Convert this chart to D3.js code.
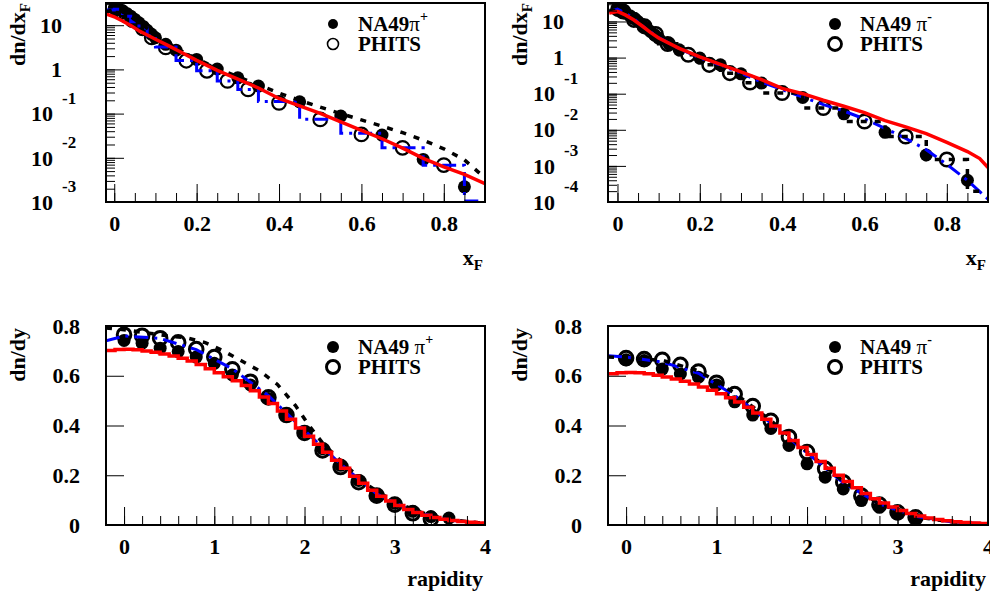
<!DOCTYPE html>
<html>
<head>
<meta charset="utf-8">
<script src="https://cdn.jsdelivr.net/npm/d3@7"></script>
<style>
  body { margin: 0; background: #fff; }
  svg text { font-family: "Liberation Serif", "Times New Roman", serif; font-weight: bold; fill: #000; }
</style>
</head>
<body>
<div id="chart"></div>
<script>
// ---------- pi+ dn/dxF (top left) ----------
var xfNa49 = [0,0.01,0.02,0.03,0.04,0.05,0.06,0.07,0.08,0.09,0.1,0.125,0.15,0.2,0.25,0.3,0.35,0.45,0.55,0.65,0.75,0.85];
var na49XfPip = [24,23,21,18.5,16,13.5,11.3,9.4,7.7,6.3,5.2,3.7,2.73,1.68,1.02,0.645,0.42,0.185,0.0877,0.0327,0.0092,0.0022];
var xfPhitsPip = [0.005,0.018,0.03,0.044,0.069,0.091,0.125,0.175,0.225,0.275,0.325,0.4,0.5,0.6,0.7,0.8];
var phitsXfPip = [24,20,16.5,13,8.5,5.3,3.15,1.57,0.93,0.55,0.353,0.175,0.074,0.0338,0.0168,0.00684];
var xfRedPip = [-0.02,0,0.02,0.04,0.06,0.08,0.1,0.13,0.16,0.2,0.25,0.3,0.35,0.4,0.45,0.5,0.55,0.6,0.65,0.7,0.75,0.8,0.85,0.9];
var redXfPip = [18,15.5,12.5,9.8,7.5,6,4.8,3.5,2.5,1.6,0.95,0.6,0.38,0.22,0.15,0.101,0.065,0.042,0.027,0.0165,0.0097,0.0062,0.0042,0.0026];
var xfBlackPip = [-0.02,0,0.02,0.04,0.06,0.08,0.1,0.15,0.2,0.25,0.3,0.35,0.4,0.45,0.5,0.55,0.6,0.65,0.7,0.75,0.8,0.85,0.9];
var blackXfPip = [20,23,20,15.5,11.5,8.5,6.3,3.0,1.75,1.05,0.68,0.45,0.29,0.2,0.14,0.1,0.072,0.052,0.037,0.025,0.016,0.009,0.0035];
var xfBins = [-0.02,0,0.02,0.04,0.06,0.08,0.1,0.15,0.2,0.25,0.3,0.35,0.45,0.55,0.65,0.75,0.85,0.95];
var blueXfPip = [22,23,16,12,8.5,5.8,3.2,1.6,0.93,0.55,0.35,0.187,0.075,0.036,0.0168,0.0068,0.00105];

// ---------- pi- dn/dxF (top right) ----------
var na49XfPim = [22,20,17,14.5,12,10,8.2,6.6,5.3,4.3,3.47,2.4,1.64,0.97,0.63,0.356,0.197,0.0785,0.0277,0.0085,0.002,0.0004];
var xfPhitsPim = [0.002,0.014,0.04,0.066,0.093,0.122,0.172,0.223,0.273,0.322,0.4,0.5,0.6,0.7,0.8];
var phitsXfPim = [22,18.9,11.1,7.3,4.5,2.37,1.2,0.63,0.372,0.204,0.104,0.04,0.017,0.0065,0.0015];
var xfRedPim = [-0.02,0,0.02,0.04,0.06,0.08,0.1,0.15,0.2,0.25,0.3,0.35,0.4,0.45,0.5,0.55,0.6,0.65,0.7,0.75,0.8,0.85,0.88,0.9];
var redXfPim = [17,19,15,11,7.5,5,3.5,1.8,1.05,0.65,0.4,0.245,0.14,0.1,0.066,0.045,0.03,0.018,0.012,0.0078,0.0045,0.0025,0.0016,0.0009];
var xfBluePim = [-0.02,0,0.02,0.04,0.06,0.08,0.1,0.15,0.2,0.25,0.3,0.35,0.4,0.45,0.5,0.55,0.6,0.65,0.7,0.75,0.8,0.85,0.9];
var blueXfPim = [19,22,17,12,7.6,5.2,3.6,1.75,0.98,0.62,0.37,0.21,0.13,0.08,0.05,0.033,0.02,0.011,0.0058,0.0028,0.0011,0.0004,0.00012];
var blackXfPim = [20,21,14,10,7,4.6,2.4,1.2,0.63,0.37,0.2,0.104,0.04,0.0169,0.0065,0.0015,0.0002];

// ---------- dn/dy (bottom) ----------
var rapNa49Pip = [0,0.2,0.4,0.6,0.8,1,1.2,1.4,1.6,1.8,2,2.2,2.4,2.6,2.8,3,3.2,3.4,3.6];
var na49RapPip = [0.742,0.731,0.711,0.697,0.675,0.65,0.603,0.563,0.509,0.442,0.374,0.307,0.24,0.179,0.118,0.087,0.055,0.034,0.028];
var rapPhitsPip = [0,0.2,0.4,0.6,0.8,1,1.2,1.4,1.6,1.8,2,2.2,2.4,2.6,2.8,3,3.2,3.4];
var phitsRapPip = [0.765,0.761,0.751,0.734,0.707,0.675,0.626,0.576,0.513,0.442,0.37,0.3,0.233,0.172,0.118,0.082,0.047,0.024];
var rapBins = [-0.2,-0.1,0,0.1,0.2,0.3,0.4,0.5,0.6,0.7,0.8,0.9,1,1.1,1.2,1.3,1.4,1.5,1.6,1.7,1.8,1.9,2,2.1,2.2,2.3,2.4,2.5,2.6,2.7,2.8,2.9,3,3.1,3.2,3.3,3.4,3.5,3.6,3.7,3.8,3.9,4];
var redRapPip = [0.702,0.706,0.707,0.705,0.7,0.694,0.687,0.679,0.67,0.659,0.645,0.628,0.612,0.596,0.58,0.561,0.54,0.515,0.488,0.458,0.425,0.39,0.357,0.325,0.292,0.26,0.228,0.196,0.168,0.14,0.116,0.096,0.078,0.062,0.05,0.039,0.03,0.023,0.018,0.014,0.011,0.008];
var rapBlackPip = [-0.2,0,0.3,0.5,0.7,0.9,1.1,1.3,1.5,1.7,1.9,2.05,2.2,2.35,2.5,2.7,2.9,3.1,3.3,3.5,3.7,3.9,4];
var blackRapPip = [0.792,0.785,0.77,0.76,0.752,0.733,0.7,0.66,0.62,0.565,0.48,0.4,0.33,0.275,0.225,0.16,0.115,0.078,0.05,0.03,0.018,0.01,0.008];
var rapModel = [-0.2,0,0.4,0.8,1.2,1.6,2,2.4,2.8,3.2,3.6,4];
var blueRapPip = [0.74,0.76,0.75,0.705,0.628,0.52,0.38,0.245,0.125,0.055,0.02,0.006];

var rapNa49Pim = [0,0.2,0.4,0.6,0.8,1,1.2,1.4,1.6,1.8,2,2.2,2.4,2.6,2.8,3,3.2];
var na49RapPim = [0.664,0.661,0.627,0.607,0.594,0.563,0.495,0.442,0.388,0.32,0.246,0.192,0.145,0.098,0.071,0.044,0.024];
var phitsRapPim = [0.671,0.667,0.664,0.644,0.617,0.572,0.526,0.478,0.419,0.354,0.293,0.226,0.172,0.118,0.082,0.051,0.031];
var redRapPim = [0.608,0.612,0.613,0.612,0.608,0.602,0.595,0.587,0.578,0.567,0.555,0.542,0.528,0.512,0.494,0.473,0.45,0.425,0.398,0.37,0.34,0.312,0.283,0.255,0.228,0.2,0.175,0.15,0.127,0.106,0.088,0.072,0.058,0.046,0.036,0.028,0.022,0.017,0.013,0.01,0.008,0.006];
var blackRapPim = [0.675,0.672,0.662,0.62,0.53,0.42,0.295,0.175,0.085,0.033,0.012,0.004];
var blueRapPim = [0.68,0.675,0.655,0.61,0.52,0.41,0.29,0.17,0.085,0.035,0.012,0.004];

var xfTicks = [0,0.2,0.4,0.6,0.8];
var rapTicks = [0,1,2,3,4];
var dndyTicks = [0,0.2,0.4,0.6,0.8];

function pts(xs, ys) { return xs.map(function(x, i) { return {x: x, y: ys[i]}; }); }
function hist(edges, vals) {
  var p = vals.map(function(v, i) { return {x: edges[i], y: v}; });
  p.push({x: edges[vals.length], y: vals[vals.length - 1]});
  return p;
}

var RED = "#ff0000", BLUE = "#0000ff";
var redStyle = {color: RED, width: 3.5, dash: null};
var blackStyle = {color: "#000", width: 3.5, dash: "6,8"};
var blueStyle = {color: BLUE, width: 3, dash: "14,6,3,6"};

var panels = [
  {left: 106, top: 3, w: 379, h: 199, xDomain: [-0.02, 0.9], log: true, yDomain: [1e-3, 31.8],
   xTicks: xfTicks, xMinor: 0.05, ytitle: "dn/dx", ysub: "F", xtitle: "x", xsub: "F",
   na49: pts(xfNa49, na49XfPip), phits: pts(xfPhitsPip, phitsXfPip),
   lines: [
     {d: hist(xfBins, blueXfPip), step: true, s: blueStyle},
     {d: pts(xfBlackPip, blackXfPip), step: false, s: blackStyle},
     {d: pts(xfRedPip, redXfPip), step: false, s: redStyle}],
   leg: "NA49", legPi: "\u03c0", legSup: "+", legOpenW: 1.6, legR: 5.5, ringW: 2.2},
  {left: 608, top: 3, w: 380, h: 199, xDomain: [-0.023, 0.9], log: true, yDomain: [1e-4, 32.5],
   xTicks: xfTicks, xMinor: 0.05, ytitle: "dn/dx", ysub: "F", xtitle: "x", xsub: "F",
   na49: pts(xfNa49, na49XfPim), phits: pts(xfPhitsPim, phitsXfPim),
   lines: [
     {d: pts(xfBluePim, blueXfPim), step: false, s: blueStyle},
     {d: hist(xfBins, blackXfPim), step: true, s: blackStyle},
     {d: pts(xfRedPim, redXfPim), step: false, s: redStyle}],
   leg: "NA49 ", legPi: "\u03c0", legSup: "-", legOpenW: 2.8, legR: 6.5, ringW: 2.5},
  {left: 106, top: 326, w: 379, h: 199, xDomain: [-0.2, 4], log: false, yDomain: [0, 0.8],
   xTicks: rapTicks, xMinor: 0.2, ytitle: "dn/dy", ysub: null, xtitle: "rapidity", xsub: null,
   na49: pts(rapNa49Pip, na49RapPip), phits: pts(rapPhitsPip, phitsRapPip),
   lines: [
     {d: pts(rapModel, blueRapPip), step: false, s: blueStyle},
     {d: pts(rapBlackPip, blackRapPip), step: false, s: blackStyle},
     {d: hist(rapBins, redRapPip), step: true, s: redStyle}],
   leg: "NA49 ", legPi: "\u03c0", legSup: "+", legOpenW: 3, legR: 6.5, ringW: 3},
  {left: 608, top: 326, w: 380, h: 199, xDomain: [-0.2, 4], log: false, yDomain: [0, 0.8],
   xTicks: rapTicks, xMinor: 0.2, ytitle: "dn/dy", ysub: null, xtitle: "rapidity", xsub: null,
   na49: pts(rapNa49Pim, na49RapPim), phits: pts(rapNa49Pim, phitsRapPim),
   lines: [
     {d: pts(rapModel, blueRapPim), step: false, s: blueStyle},
     {d: pts(rapModel, blackRapPim), step: false, s: blackStyle},
     {d: hist(rapBins, redRapPim), step: true, s: redStyle}],
   leg: "NA49 ", legPi: "\u03c0", legSup: "-", legOpenW: 3, legR: 6.5, ringW: 3}
];

var svg = d3.select("#chart").append("svg")
    .attr("width", 990)
    .attr("height", 596);

function fmt(d) { return d === 0 ? "0" : (Number.isInteger(d) ? String(d) : d3.format(".1f")(d)); }

panels.forEach(function(p, pi) {
  var g = svg.append("g").attr("transform", "translate(" + p.left + "," + p.top + ")");
  var x = d3.scaleLinear().domain(p.xDomain).range([0, p.w]);
  var y = (p.log ? d3.scaleLog() : d3.scaleLinear()).domain(p.yDomain).range([p.h, 0]);

  var clipId = "clip" + pi;
  g.append("clipPath").attr("id", clipId)
    .append("rect").attr("width", p.w).attr("height", p.h);
  var plot = g.append("g").attr("clip-path", "url(#" + clipId + ")");

  // markers
  plot.selectAll("circle.na49").data(p.na49).enter().append("circle")
    .attr("class", "na49")
    .attr("cx", function(d) { return x(d.x); })
    .attr("cy", function(d) { return y(d.y); })
    .attr("r", 6.5)
    .attr("fill", "#000");
  plot.selectAll("circle.phits").data(p.phits).enter().append("circle")
    .attr("class", "phits")
    .attr("cx", function(d) { return x(d.x); })
    .attr("cy", function(d) { return y(d.y); })
    .attr("r", 6.8)
    .attr("fill", "none")
    .attr("stroke", "#000")
    .attr("stroke-width", p.ringW);

  // model curves
  p.lines.forEach(function(l) {
    var line = d3.line()
      .x(function(d) { return x(d.x); })
      .y(function(d) { return y(d.y); })
      .curve(l.step ? d3.curveStepAfter : d3.curveLinear);
    plot.append("path")
      .attr("d", line(l.d))
      .attr("fill", "none")
      .attr("stroke", l.s.color)
      .attr("stroke-width", l.s.width)
      .attr("stroke-dasharray", l.s.dash);
  });

  // x ticks, drawn inside the frame
  var xMinVals = d3.range(Math.ceil(p.xDomain[0] / p.xMinor), Math.floor(p.xDomain[1] / p.xMinor) + 1)
      .map(function(k) { return +(k * p.xMinor).toFixed(3); });
  var gxm = g.append("g").attr("transform", "translate(0," + p.h + ")")
    .call(d3.axisBottom(x).tickValues(xMinVals).tickSize(-9).tickFormat(""));
  gxm.select(".domain").remove();
  var gx = g.append("g").attr("transform", "translate(0," + p.h + ")")
    .call(d3.axisBottom(x).tickValues(p.xTicks).tickSize(-18).tickFormat(fmt).tickPadding(0));
  gx.select(".domain").remove();
  gx.selectAll("text").attr("y", 29).attr("dy", null).style("font-size", "22px")
    .style("font-family", "'Liberation Serif', serif").style("font-weight", "bold");

  // y ticks
  if (p.log) {
    var all = y.ticks();
    var maj = all.filter(function(v) { return Math.abs(Math.log10(v) - Math.round(Math.log10(v))) < 1e-6; });
    var gym = g.append("g").call(d3.axisLeft(y).tickValues(all).tickSize(-9).tickFormat(""));
    gym.select(".domain").remove();
    var gy = g.append("g").call(d3.axisLeft(y).tickValues(maj).tickSize(-18).tickFormat(""));
    gy.select(".domain").remove();
    maj.forEach(function(v) {
      var k = Math.round(Math.log10(v)), yy = y(v);
      if (k >= 0) {
        g.append("text").attr("x", -44).attr("y", yy).attr("dy", "0.35em")
          .attr("text-anchor", "end").style("font-size", "22px").text(String(Math.pow(10, k)));
      } else {
        g.append("text").attr("x", -53).attr("y", yy).attr("dy", "0.35em")
          .attr("text-anchor", "end").style("font-size", "22px").text("10");
        g.append("text").attr("x", -44).attr("y", yy - 16).attr("dy", "0.35em")
          .attr("text-anchor", "start").style("font-size", "17px").text(String(k));
      }
    });
  } else {
    var gy2 = g.append("g").call(d3.axisLeft(y).tickValues(dndyTicks).tickSize(-18).tickFormat(fmt).tickPadding(26));
    gy2.select(".domain").remove();
    gy2.selectAll("text").style("font-size", "22px")
      .style("font-family", "'Liberation Serif', serif").style("font-weight", "bold");
  }

  // frame
  g.append("rect").attr("width", p.w).attr("height", p.h)
    .attr("fill", "none").attr("stroke", "#000").attr("stroke-width", 2);

  // axis titles
  var xt = g.append("text").attr("x", p.w - 2).attr("y", p.log ? 262 : 260)
    .attr("text-anchor", "end").style("font-size", "22px").text(p.xtitle);
  if (p.xsub) xt.append("tspan").attr("dy", 5).style("font-size", "15px").text(p.xsub);

  var yt = g.append("text").attr("transform", "translate(-81," + (p.log ? 0 : 2) + ") rotate(-90)")
    .attr("text-anchor", "end").style("font-size", "22px").text(p.ytitle);
  if (p.ysub) yt.append("tspan").attr("dy", 5).style("font-size", "15px").text(p.ysub);

  // legend
  var lx = 227, ly1 = 21, ly2 = 41;
  g.append("circle").attr("cx", lx).attr("cy", ly1).attr("r", p.legR - 0.5).attr("fill", "#000");
  g.append("circle").attr("cx", lx).attr("cy", ly2).attr("r", p.legR)
    .attr("fill", "none").attr("stroke", "#000").attr("stroke-width", p.legOpenW);
  var lt = g.append("text").attr("x", lx + 25).attr("y", ly1 + 7).style("font-size", "21px").text(p.leg);
  lt.append("tspan").style("font-weight", "normal").text(p.legPi);
  lt.append("tspan").attr("dy", -10).style("font-size", "14px").text(p.legSup);
  g.append("text").attr("x", lx + 25).attr("y", ly2 + 7).style("font-size", "21px").text("PHITS");
});
</script>
</body>
</html>
